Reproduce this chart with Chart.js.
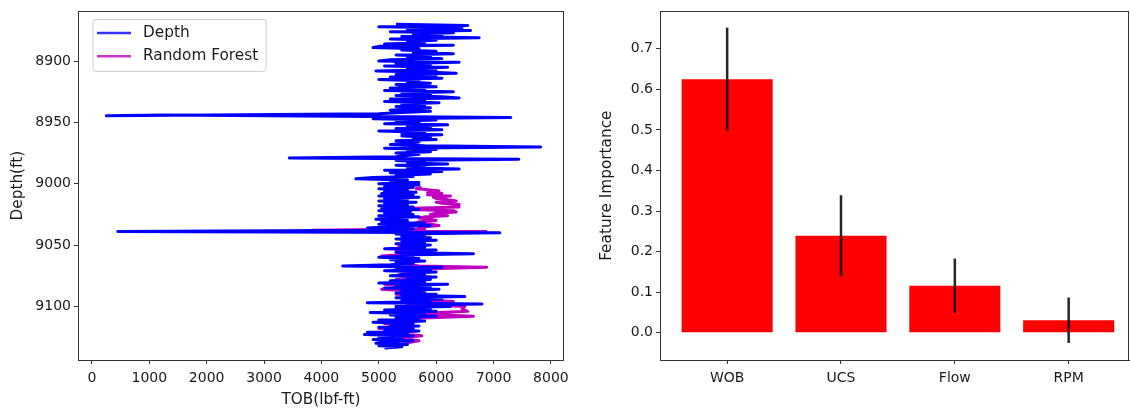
<!DOCTYPE html>
<html>
<head>
<meta charset="utf-8">
<script src="https://cdn.jsdelivr.net/npm/chart.js@4.4.1/dist/chart.umd.min.js"></script>
<style>
  html, body { margin: 0; padding: 0; background: #fff; }
  #wrap { position: relative; width: 1130px; height: 411px; overflow: hidden; }
  #tobChart { position: absolute; left: 0; top: 0; }
  #impChart { position: absolute; left: 575px; top: 0; }
</style>
</head>
<body>
<div id="wrap">
  <canvas id="tobChart" width="575" height="411"></canvas>
  <canvas id="impChart" width="555" height="411"></canvas>
</div>
<script>
// Perfil medido: profundidad (ft) y TOB (lbf-ft), una fila por cada 10 ft
const depthFt = [
  8870, 8871, 8872, 8873, 8874, 8875, 8876, 8877, 8878, 8879,
  8880, 8881, 8882, 8883, 8884, 8885, 8886, 8887, 8888, 8889,
  8890, 8891, 8892, 8893, 8894, 8895, 8896, 8897, 8898, 8899,
  8900, 8901, 8902, 8903, 8904, 8905, 8906, 8907, 8908, 8909,
  8910, 8911, 8912, 8913, 8914, 8915, 8916, 8917, 8918, 8919,
  8920, 8921, 8922, 8923, 8924, 8925, 8926, 8927, 8928, 8929,
  8930, 8931, 8932, 8933, 8934, 8935, 8936, 8937, 8938, 8939,
  8940, 8941, 8942, 8943, 8944.5, 8944, 8946, 8947, 8948, 8949,
  8950, 8951, 8952, 8953, 8954, 8955, 8956, 8957, 8958, 8959,
  8960, 8961, 8962, 8963, 8964, 8965, 8966, 8967, 8968, 8969,
  8970, 8971, 8972, 8973, 8974, 8975, 8976, 8977, 8978, 8979,
  8980, 8981, 8982, 8983, 8984, 8985, 8986, 8987, 8988, 8989,
  8990, 8991, 8992, 8993, 8994, 8995, 8996, 8997, 8998, 8999,
  9000, 9001, 9002, 9003, 9004, 9005, 9006, 9007, 9008, 9009,
  9010, 9011, 9012, 9013, 9014, 9015, 9016, 9017, 9018, 9019,
  9020, 9021, 9022, 9023, 9024, 9025, 9026, 9027, 9028, 9029,
  9030, 9031, 9032, 9033, 9034, 9035, 9036, 9037, 9038, 9039,
  9040, 9041, 9042, 9043, 9044, 9045, 9046, 9047, 9048, 9049,
  9050, 9051, 9052, 9053, 9054, 9055, 9056, 9057, 9058, 9059,
  9060, 9061, 9062, 9063, 9064, 9065, 9066, 9067, 9068, 9069,
  9070, 9071, 9072, 9073, 9074, 9075, 9076, 9077, 9078, 9079,
  9080, 9081, 9082, 9083, 9084, 9085, 9086, 9087, 9088, 9089,
  9090, 9091, 9092, 9093, 9094, 9095, 9096, 9097, 9098, 9099,
  9100, 9101, 9102, 9103, 9104, 9105, 9106, 9107, 9108, 9109,
  9110, 9111, 9112, 9113, 9114, 9115, 9116, 9117, 9118, 9119,
  9120, 9121, 9122, 9123, 9124, 9125, 9126, 9127, 9128, 9129,
  9130, 9131, 9132, 9133, 9134
];
const depthTob = [
  5300, 6550, 5000, 6450, 5500, 6600, 5200, 6300, 5600, 6100,
  5400, 6750, 5200, 6000, 5500, 5800, 5100, 6300, 5000, 4900,
  5700, 5400, 6000, 5600, 6300, 5300, 5900, 5500, 6100, 5200,
  5000, 6400, 5300, 5900, 5100, 6200, 5500, 6000, 4950, 5800,
  6350, 5300, 6000, 5200, 6100, 5000, 5700, 5500, 5900, 5300,
  5400, 6000, 5200, 5800, 5100, 6300, 5400, 5900, 5300, 6100,
  6400, 5200, 5800, 5100, 6050, 5400, 5800, 5300, 5900, 5500,
  5200, 5900, 5400, 5000, 250, 1250, 7300, 4900, 6000, 5300,
  5700, 5100, 6200, 5500, 5900, 5300, 6100, 5000, 5800, 5400,
  6100, 5400, 5900, 5600, 6000, 5300, 5700, 5500, 5200, 5800,
  7820, 5100, 6000, 5500, 5900, 5300, 5700, 5500, 5300, 3440,
  7440, 5300, 5800, 5500, 6200, 5300, 5800, 5500, 6400, 5100,
  6100, 5200, 5900, 5300, 5600, 4900, 4600, 5500, 5200, 5700,
  5000, 5700, 5100, 5600, 5000, 5500, 5100, 5650, 5050, 5600,
  5000, 5700, 5100, 5500, 5000, 5650, 5100, 5500, 5000, 5600,
  5050, 5700, 5000, 5550, 5100, 5600, 5000, 5700, 5100, 4950,
  5500, 5050, 5800, 5000, 5900, 5200, 4800, 5600, 5100, 450,
  7110, 5300, 5800, 5400, 5900, 5300, 6000, 5400, 5800, 5300,
  5900, 5400, 5800, 5100, 6000, 5500, 5300, 6650, 5400, 5600,
  5000, 5700, 5200, 5800, 5300, 5600, 5200, 4370, 6100, 5300,
  5900, 5100, 6000, 5400, 5800, 5200, 6000, 5500, 5900, 5200,
  5800, 5000, 6200, 5300, 5900, 5100, 6050, 5400, 5800, 5300,
  6000, 5400, 6500, 5300, 6100, 5400, 5900, 4800, 6800, 5300,
  6250, 5300, 5900, 5100, 6000, 4850, 5800, 5200, 6000, 5300,
  5700, 5000, 5800, 4900, 5600, 5200, 5700, 5000, 5600, 5100,
  5700, 4800, 5500, 4750, 5600, 5000, 5400, 4900, 5600, 5100,
  4950, 5500, 5000, 5400, 5100
];

// Prediccion del modelo (Random Forest)
const rfDepthFt = [
  9003, 9004, 9005, 9006, 9007, 9008, 9009, 9010, 9011, 9012,
  9013, 9014, 9015, 9016, 9017, 9018, 9019, 9020, 9021, 9022,
  9023, 9024, 9025, 9026, 9027, 9028, 9029, 9030, 9031, 9032,
  9033, 9034, 9035, 9036, 9037, 9038, 9039, 9041, 9043, 9045,
  9047, 9049, 9051, 9053, 9055, 9057, 9059, 9061, 9063, 9065, 9067,
  9068,
  9070, 9072, 9074, 9076, 9078, 9080, 9082, 9084, 9086, 9088,
  9090, 9092, 9094, 9096, 9098, 9100, 9102, 9104, 9106, 9108,
  9110, 9112, 9114, 9116, 9118, 9120, 9122, 9124, 9126, 9128,
  9130
];
const rfTob = [
  5750, 5650, 5900, 6050, 5850, 6100, 5850, 6250, 5950, 6000,
  6200, 6350, 6000, 6100, 6400, 6300, 6400, 5600, 5550, 6300,
  6350, 6000, 5900, 6200, 5800, 5700, 5900, 6000, 5700, 5650,
  5900, 6050, 5800, 5700, 5800, 3840, 6870, 5700, 5500, 5800,
  5500, 5750, 5350, 5700, 5300, 5650, 5050, 5450, 5600, 5400, 5700,
  6880,
  5450, 5800, 5350, 5900, 5300, 5700, 5100, 5600, 5050, 5750,
  5300, 6050, 5500, 6300, 5500, 6500, 6450, 6550, 5600, 6650,
  5400, 5700, 5100, 5550, 5000, 5650, 5300, 5750, 5350, 5700,
  5450
];

const tobTicks = [0, 1000, 2000, 3000, 4000, 5000, 6000, 7000, 8000];
const depthTicks = [8900, 8950, 9000, 9050, 9100];

// Importancia de variables
const features = ['WOB', 'UCS', 'Flow', 'RPM'];
const importance = [0.625, 0.239, 0.116, 0.031];
const importanceStd = [0.127, 0.100, 0.067, 0.056];
const importanceTicks = [0.0, 0.1, 0.2, 0.3, 0.4, 0.5, 0.6, 0.7];

const FONT_TICK = { family: 'DejaVu Sans', size: 14 };
const FONT_LABEL = { family: 'DejaVu Sans', size: 15.3 };
const TEXT = '#1a1a1a';
const AXIS = '#333';

function parejas(xs, ys) {
  return xs.map((x, i) => ({ x: x, y: ys[i] }));
}

// marco completo alrededor del area de dibujo
const marco = {
  id: 'marco',
  afterDraw(chart) {
    const a = chart.chartArea;
    const ctx = chart.ctx;
    ctx.save();
    ctx.strokeStyle = AXIS;
    ctx.lineWidth = 1;
    ctx.strokeRect(Math.round(a.left) + 0.5, Math.round(a.top) + 0.5,
      Math.round(a.right - a.left) - 1, Math.round(a.bottom - a.top));
    ctx.restore();
  }
};

// leyenda dentro de los ejes, arriba a la izquierda
const leyenda = {
  id: 'leyenda',
  afterDraw(chart) {
    const ctx = chart.ctx;
    const a = chart.chartArea;
    const sets = chart.data.datasets;
    ctx.save();
    ctx.font = FONT_LABEL.size + 'px ' + FONT_LABEL.family;
    let maxW = 0;
    sets.forEach(d => { maxW = Math.max(maxW, ctx.measureText(d.label).width); });
    const x0 = a.left + 15, y0 = a.top + 8;
    const w = 50 + maxW + 8, h = 52, r = 3;
    ctx.fillStyle = 'rgba(255,255,255,0.8)';
    ctx.strokeStyle = '#cccccc';
    ctx.lineWidth = 1;
    ctx.beginPath();
    ctx.moveTo(x0 + r, y0);
    ctx.arcTo(x0 + w, y0, x0 + w, y0 + h, r);
    ctx.arcTo(x0 + w, y0 + h, x0, y0 + h, r);
    ctx.arcTo(x0, y0 + h, x0, y0, r);
    ctx.arcTo(x0, y0, x0 + w, y0, r);
    ctx.closePath();
    ctx.fill();
    ctx.stroke();
    sets.forEach((d, i) => {
      const yy = y0 + 13.5 + i * 23.4;
      ctx.strokeStyle = d.borderColor;
      ctx.globalAlpha = 0.8;
      ctx.lineWidth = 2.5;
      ctx.beginPath();
      ctx.moveTo(x0 + 4, yy);
      ctx.lineTo(x0 + 38, yy);
      ctx.stroke();
      ctx.globalAlpha = 1;
      ctx.fillStyle = TEXT;
      ctx.textBaseline = 'middle';
      ctx.fillText(d.label, x0 + 50, yy);
    });
    ctx.restore();
  }
};

// barras de error de la importancia
const barrasError = {
  id: 'barrasError',
  afterDatasetsDraw(chart) {
    const ctx = chart.ctx;
    const xs = chart.scales.x, ys = chart.scales.y;
    ctx.save();
    ctx.strokeStyle = 'rgba(0,0,0,0.85)';
    ctx.lineWidth = 2.5;
    importance.forEach((v, i) => {
      const x = xs.getPixelForValue(i);
      ctx.beginPath();
      ctx.moveTo(x, ys.getPixelForValue(v - importanceStd[i]));
      ctx.lineTo(x, ys.getPixelForValue(v + importanceStd[i]));
      ctx.stroke();
    });
    ctx.restore();
  }
};

function ejeBase(extra, tickExtra) {
  return Object.assign({
    grid: { display: true, offset: false, drawOnChartArea: false, drawTicks: true, tickLength: 4, color: AXIS },
    border: { display: true, color: AXIS, width: 1 },
    ticks: Object.assign({ font: FONT_TICK, color: TEXT, padding: 4, autoSkip: false, maxRotation: 0 }, tickExtra)
  }, extra);
}

new Chart(document.getElementById('tobChart'), {
  type: 'scatter',
  data: {
    datasets: [
      {
        label: 'Depth',
        data: parejas(depthTob, depthFt),
        showLine: true,
        borderColor: '#0000ff',
        borderWidth: 3,
        borderJoinStyle: 'round',
        pointRadius: 0,
        fill: false
      },
      {
        label: 'Random Forest',
        data: parejas(rfTob, rfDepthFt),
        showLine: true,
        borderColor: '#bf00bf',
        borderWidth: 3,
        borderJoinStyle: 'round',
        pointRadius: 0,
        fill: false
      }
    ]
  },
  options: {
    responsive: false,
    animation: false,
    layout: { padding: { left: 0, right: 10, top: 9, bottom: 0 } },
    plugins: { legend: { display: false }, tooltip: { enabled: false } },
    scales: {
      x: ejeBase({
        type: 'linear',
        min: -243,
        max: 8226,
        afterBuildTicks: s => { s.ticks = tobTicks.map(v => ({ value: v })); },
        afterFit: s => { s.height = 51; },
        title: { display: true, text: 'TOB(lbf-ft)', font: FONT_LABEL, color: TEXT, padding: { top: 0, bottom: 2 } }
      }, { padding: 6, callback: v => String(v) }),
      y: ejeBase({
        type: 'linear',
        reverse: true,
        min: 8859.5,
        max: 9143.7,
        afterBuildTicks: s => { s.ticks = depthTicks.map(v => ({ value: v })); },
        afterFit: s => { s.width = 78; },
        title: { display: true, text: 'Depth(ft)', font: FONT_LABEL, color: TEXT, padding: { top: 9, bottom: 0 } }
      }, { padding: 3, callback: v => String(v) })
    }
  },
  plugins: [marco, leyenda]
});

new Chart(document.getElementById('impChart'), {
  type: 'bar',
  data: {
    datasets: [{
      label: 'Feature Importance',
      data: parejas(importance.map((v, i) => i), importance),
      backgroundColor: '#ff0000',
      borderWidth: 0,
      barPercentage: 0.8,
      categoryPercentage: 1.0
    }]
  },
  options: {
    responsive: false,
    animation: false,
    layout: { padding: { left: 0, right: 1, top: 9, bottom: 0 } },
    plugins: { legend: { display: false }, tooltip: { enabled: false } },
    scales: {
      x: ejeBase({
        type: 'linear',
        min: -0.59,
        max: 3.53,
        offset: false,
        afterBuildTicks: s => { s.ticks = features.map((f, i) => ({ value: i })); },
        afterFit: s => { s.height = 51; }
      }, { padding: 6, callback: v => features[v] }),
      y: ejeBase({
        type: 'linear',
        min: -0.067,
        max: 0.792,
        afterBuildTicks: s => { s.ticks = importanceTicks.map(v => ({ value: v })); },
        afterFit: s => { s.width = 85; },
        title: { display: true, text: 'Feature Importance', font: FONT_LABEL, color: TEXT, padding: { top: 23, bottom: 0 } }
      }, { padding: 3, callback: v => v.toFixed(1) })
    }
  },
  plugins: [marco, barrasError]
});
</script>
</body>
</html>
